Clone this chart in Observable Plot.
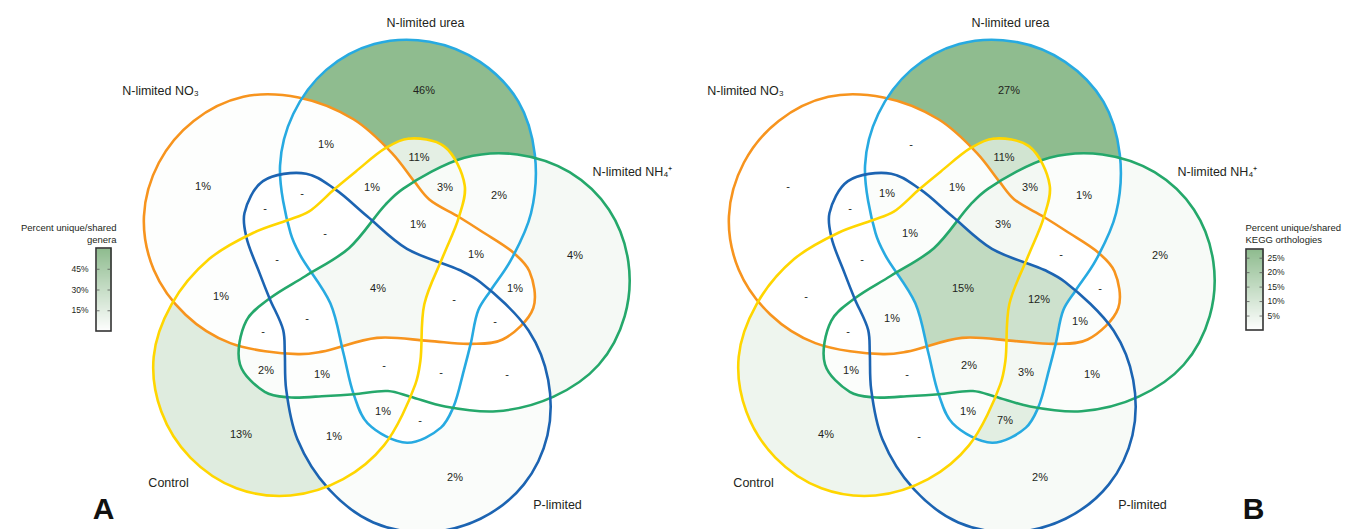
<!DOCTYPE html>
<html>
<head>
<meta charset="utf-8">
<script src="https://cdn.jsdelivr.net/npm/d3@7"></script>
<script src="https://cdn.jsdelivr.net/npm/@observablehq/plot@0.6"></script>
<style>
  body { margin: 0; background: #fff; }
</style>
</head>
<body>
<div id="chart"></div>
<script>
// ---------------- DATA ----------------
const setKeys  = ["O", "U", "G", "P", "Y"];
const setNames = ["N-limited NO₃", "N-limited urea", "N-limited NH₄⁺", "P-limited", "Control"];

// region = combination of sets (O = NO3, U = urea, G = NH4+, P = P-limited, Y = Control)
const regions = ["O","U","G","P","Y",
  "OU","OG","OP","OY","UG","UP","UY","GP","GY","PY",
  "OUG","OUP","OUY","OGP","OGY","OPY","UGP","UGY","UPY","GPY",
  "OUGP","OUGY","OUPY","OGPY","UGPY","OUGPY"];
// percent per region (null = "-")
const generaPct = [1,46,4,2,13,
  1,1,null,1,2,null,11,null,2,1,
  1,null,1,null,null,null,null,3,1,1,
  null,1,null,null,null,4];
const keggPct = [null,27,2,2,4,
  null,null,null,null,1,7,11,1,1,null,
  null,1,1,1,null,null,3,3,1,null,
  12,3,1,1,2,15];

const legendTicksA = [15, 30, 45];
const legendTicksB = [5, 10, 15, 20, 25];
const legendTitleA = "Percent unique/shared\ngenera";
const legendTitleB = "Percent unique/shared\nKEGG orthologies";

// ---------------- LAYOUT / STYLE ----------------
const W = 1350, H = 529;
const FONT = "'Liberation Sans', Arial, Helvetica, sans-serif";
const INK = "#231f20";
const GREEN_MAX = "#8fbc8f";
const SHAPE_COLORS = {O: "#f7941e", U: "#27aae1", G: "#25a86b", P: "#1c64b2", Y: "#ffd600"};
const ROT0 = -75.6;                       // direction of the urea lobe (deg)
const ORDER = {U: 0, G: 1, P: 2, Y: 3, O: 4};
// template of one curved set (local coords: a along the lobe axis, b across)
const TEMPLATE = [[-142,67],[-119,96],[-96,103],[-58,104],[-30,104],[4,103],[26,110],[60,122],
  [111,130],[169,119],[216,90],[245,43],[252,-11],[236,-64],[199,-104],[148,-125],
  [95,-125],[32,-98],[13,-83],[-26,-42],[-71,-17],[-108,3],[-133,24]];
const SET_LABEL_POS = {U: [48,-266,"middle"], G: [215,-117,"start"], P: [180,216,"middle"],
                       Y: [-209,194,"middle"], O: [-217,-198,"middle"]};
const BOX = 600;

const panels = [
  {cx: 377, cy: 288, values: generaPct, letter: "A", letterPos: [-274, 221],
   legend: {x0: 96, x1: 111, yBottom: 331, yTop: 248, max: 60, ticks: legendTicksA,
            labelSide: "left", title: legendTitleA, titleX: 116, titleY: 233, anchor: "end"}},
  {cx: 962, cy: 288, values: keggPct, letter: "B", letterPos: [291, 221],
   legend: {x0: 1246, x1: 1263, yBottom: 330, yTop: 249, max: 28, ticks: legendTicksB,
            labelSide: "right", title: legendTitleB, titleX: 1245, titleY: 233, anchor: "start"}}
];

function maskOf(code) {
  let m = 0;
  for (const ch of code) m |= 1 << setKeys.indexOf(ch);
  return m;
}

function shapePoints(panel, k) {
  const th = (ROT0 + 72 * ORDER[k]) * Math.PI / 180;
  const c = Math.cos(th), s = Math.sin(th);
  return TEMPLATE.map(([a, b]) => [panel.cx + a * c - b * s, panel.cy + a * s + b * c]);
}

function analysePanel(panel) {
  const x0 = panel.cx - BOX / 2, w = BOX, h = H;
  const canvas = document.createElement("canvas");
  canvas.width = w; canvas.height = h;
  const ctx = canvas.getContext("2d", {willReadFrequently: true});
  const code = new Uint8Array(w * h);
  setKeys.forEach((k, bit) => {
    ctx.clearRect(0, 0, w, h);
    const pts = shapePoints(panel, k).map(([x, y]) => [x - x0, y]);
    ctx.fillStyle = "#000";
    ctx.fill(new Path2D(d3.line().curve(d3.curveCatmullRomClosed)(pts)));
    const data = ctx.getImageData(0, 0, w, h).data;
    for (let i = 0; i < w * h; i++) if (data[i * 4 + 3] >= 128) code[i] |= 1 << bit;
  });
  // fill colours
  const max = d3.max(panel.values);
  const interp = d3.interpolateRgb("#ffffff", GREEN_MAX);
  const maskColor = new Array(32).fill(null);
  regions.forEach((r, i) => {
    const v = panel.values[i];
    maskColor[maskOf(r)] = v == null ? null : interp(v / max);
  });
  const fills = new Array(w * h);
  for (let i = 0; i < w * h; i++) fills[i] = maskColor[code[i]];
  // distance to region boundary (chamfer)
  const dist = new Float32Array(w * h);
  for (let y = 0; y < h; y++) for (let x = 0; x < w; x++) {
    const i = y * w + x, c = code[i];
    const edge = x === 0 || y === 0 || x === w - 1 || y === h - 1 ||
      code[i - 1] !== c || code[i + 1] !== c || code[i - w] !== c || code[i + w] !== c;
    dist[i] = edge ? 0 : 1e9;
  }
  const D = Math.SQRT2;
  for (let y = 1; y < h - 1; y++) for (let x = 1; x < w - 1; x++) {
    const i = y * w + x;
    dist[i] = Math.min(dist[i], dist[i - 1] + 1, dist[i - w] + 1, dist[i - w - 1] + D, dist[i - w + 1] + D);
  }
  for (let y = h - 2; y > 0; y--) for (let x = w - 2; x > 0; x--) {
    const i = y * w + x;
    dist[i] = Math.min(dist[i], dist[i + 1] + 1, dist[i + w] + 1, dist[i + w + 1] + D, dist[i + w - 1] + D);
  }
  // centroid
  const sx = new Float64Array(32), sy = new Float64Array(32), n = new Float64Array(32);
  for (let y = 0; y < h; y++) for (let x = 0; x < w; x++) {
    const c = code[y * w + x]; sx[c] += x; sy[c] += y; n[c]++;
  }
  const best = new Array(32).fill(null);
  for (let y = 0; y < h; y++) for (let x = 0; x < w; x++) {
    const i = y * w + x, c = code[i];
    if (!c) continue;
    const cx = sx[c] / n[c], cy = sy[c] / n[c];
    const score = dist[i] - 0.1 * Math.hypot(x - cx, y - cy);
    if (!best[c] || score > best[c].score) best[c] = {score, x, y};
  }
  const labels = regions.map((r, i) => {
    const b = best[maskOf(r)];
    const v = panel.values[i];
    return b ? {x: x0 + b.x + 0.5, y: b.y + 0.5, text: v == null ? "-" : v + "%"} : null;
  }).filter(d => d);
  return {x0, w, h, fills, labels};
}

const marks = [];
const outlines = [], setLabels = [], letters = [];
const legendRules = [], legendTexts = [], legendFrames = [];

for (const panel of panels) {
  const res = analysePanel(panel);
  marks.push(Plot.raster(res.fills, {
    width: res.w, height: res.h, x1: res.x0, x2: res.x0 + res.w, y1: 0, y2: res.h,
    fill: d => d, imageRendering: "pixelated"
  }));
  panel.labels = res.labels;
  for (const k of setKeys) {
    shapePoints(panel, k).forEach(([x, y]) => outlines.push({x, y, set: panel.letter + k, color: SHAPE_COLORS[k]}));
    const [dx, dy, anchor] = SET_LABEL_POS[k];
    setLabels.push({x: panel.cx + dx, y: panel.cy + dy, text: setNames[setKeys.indexOf(k)], anchor});
  }
  letters.push({x: panel.cx + panel.letterPos[0], y: panel.cy + panel.letterPos[1], text: panel.letter});

  // legend
  const L = panel.legend;
  const ly = d3.scaleLinear([0, L.max], [L.yBottom, L.yTop]);
  const interp = d3.interpolateRgb("#ffffff", GREEN_MAX);
  marks.push(Plot.raster({
    x1: L.x0, x2: L.x1, y1: L.yTop, y2: L.yBottom, width: 4, height: L.yBottom - L.yTop,
    fill: (x, y) => interp((L.yBottom - y) / (L.yBottom - L.yTop))
  }));
  legendFrames.push({x1: L.x0, x2: L.x1, y1: L.yTop, y2: L.yBottom});
  for (const t of L.ticks) {
    legendRules.push({x1: L.x0, x2: L.x0 + 3.5, y: ly(t)});
    legendRules.push({x1: L.x1 - 3.5, x2: L.x1, y: ly(t)});
    legendTexts.push({x: L.labelSide === "left" ? L.x0 - 8 : L.x1 + 4, y: ly(t), text: t + "%",
                      anchor: L.labelSide === "left" ? "end" : "start", kind: "tick"});
  }
  legendTexts.push({x: L.titleX, y: L.titleY, text: L.title, anchor: L.anchor, kind: "title"});
}

const textSub = (kind, anchor) => legendTexts.filter(d => d.kind === kind && d.anchor === anchor);

marks.push(
  Plot.rect(legendFrames, {x1: "x1", x2: "x2", y1: "y1", y2: "y2", fill: "none", stroke: "#333", strokeWidth: 1.6}),
  Plot.ruleY(legendRules, {x1: "x1", x2: "x2", y: "y", stroke: "#555", strokeWidth: 0.8}),
  Plot.text(textSub("tick", "end"), {x: "x", y: "y", text: "text", textAnchor: "end", fontSize: 8.5, fill: INK}),
  Plot.text(textSub("tick", "start"), {x: "x", y: "y", text: "text", textAnchor: "start", fontSize: 8.5, fill: INK}),
  Plot.text(textSub("title", "end"), {x: "x", y: "y", text: "text", textAnchor: "end", fontSize: 9.5, lineHeight: 1.25, fill: INK}),
  Plot.text(textSub("title", "start"), {x: "x", y: "y", text: "text", textAnchor: "start", fontSize: 9.5, lineHeight: 1.25, fill: INK}),
  Plot.line(outlines, {x: "x", y: "y", z: "set", stroke: "color", strokeWidth: 2.6, curve: "catmull-rom-closed"}),
  Plot.text(panels.flatMap(p => p.labels), {x: "x", y: "y", text: "text", fontSize: 11, fill: INK}),
  Plot.text(setLabels.filter(d => d.anchor === "middle"), {x: "x", y: "y", text: "text", fontSize: 12.5, fill: INK, textAnchor: "middle"}),
  Plot.text(setLabels.filter(d => d.anchor === "start"), {x: "x", y: "y", text: "text", fontSize: 12.5, fill: INK, textAnchor: "start"}),
  Plot.text(letters, {x: "x", y: "y", text: "text", fontSize: 30, fontWeight: "bold", fill: "#111"})
);

const plot = Plot.plot({
  width: W, height: H,
  margin: 0,
  x: {domain: [0, W], range: [0, W], axis: null},
  y: {domain: [0, H], range: [0, H], axis: null},
  color: {type: "identity"},
  style: {fontFamily: FONT, background: "#fff"},
  marks
});
document.getElementById("chart").append(plot);
</script>
</body>
</html>
